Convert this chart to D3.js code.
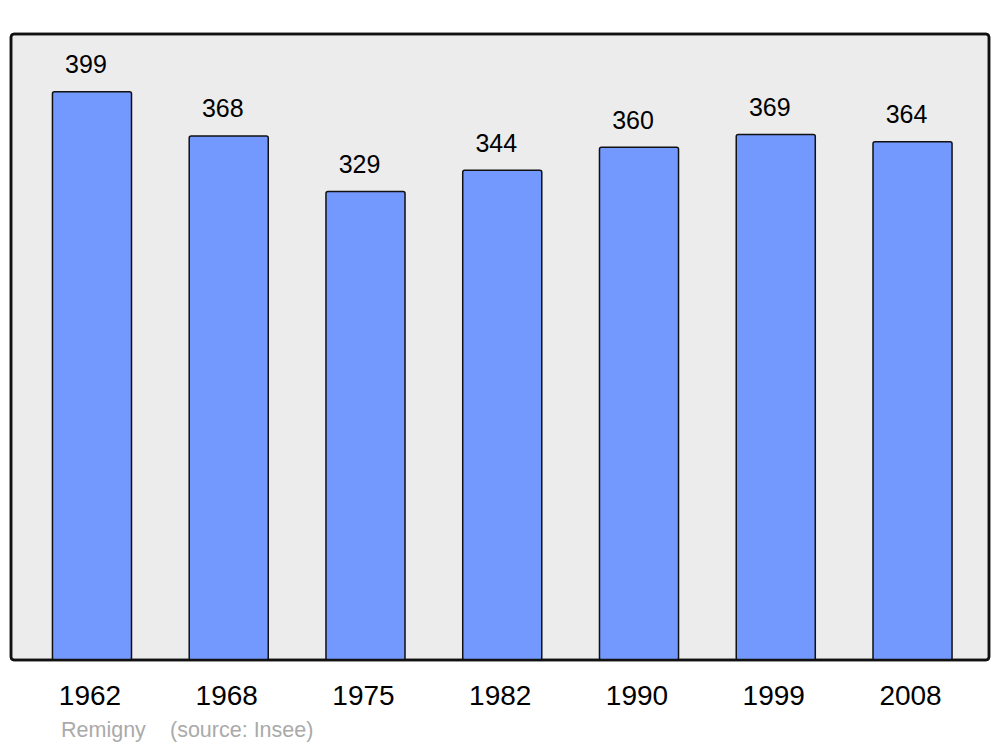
<!DOCTYPE html>
<html><head><meta charset="utf-8">
<script src="https://cdn.jsdelivr.net/npm/d3@7"></script>
<style>body{margin:0;background:#fff}svg{display:block}text{font-family:"Liberation Sans",Arial,sans-serif}</style>
</head><body>
<svg id="c" width="1000" height="747"></svg>
<script>
const years = ["1962","1968","1975","1982","1990","1999","2008"];
const population = [399,368,329,344,360,369,364];
const commune = "Remigny";
const source = "(source: Insee)";

const svg = d3.select("#c");
const plot = {x0:11, x1:989, y0:34, y1:660};

svg.append("rect").attr("x",plot.x0).attr("y",plot.y0)
  .attr("width",plot.x1-plot.x0).attr("height",plot.y1-plot.y0)
  .attr("rx",3).attr("fill","#ececec").attr("stroke","#111").attr("stroke-width",2.5);

const x = d3.scaleBand().domain(years).range([23.6,980.9]).paddingInner(0.422).paddingOuter(0.211);
const y = d3.scaleLinear().domain([0,439.6]).range([plot.y1,plot.y0]);

const g = svg.append("g");
g.selectAll("rect.bar").data(years).join("rect").attr("class","bar")
  .attr("x",d=>x(d)).attr("width",x.bandwidth())
  .attr("y",(d,i)=>y(population[i])).attr("height",(d,i)=>y(0)-y(population[i]))
  .attr("rx",2).attr("fill","#7399ff").attr("stroke","#111").attr("stroke-width",1.5);

g.selectAll("text.val").data(years).join("text").attr("class","val")
  .attr("x",d=>x(d)+x.bandwidth()/2-6).attr("y",(d,i)=>y(population[i])-18.5)
  .attr("text-anchor","middle").attr("font-size",25).attr("fill","#000")
  .text((d,i)=>population[i]);

svg.append("rect").attr("x",plot.x0).attr("y",plot.y0)
  .attr("width",plot.x1-plot.x0).attr("height",plot.y1-plot.y0)
  .attr("rx",3).attr("fill","none").attr("stroke","#111").attr("stroke-width",2.5);

const ax = svg.append("g").attr("transform",`translate(-2,${plot.y1})`)
  .call(d3.axisBottom(x).tickSize(0).tickPadding(0));
ax.select(".domain").remove();
ax.selectAll("text").attr("font-size",28).attr("fill","#000").attr("dy",0).attr("y",45)
  .attr("font-family","Liberation Sans, Arial, sans-serif");

svg.append("text").attr("x",61).attr("y",737).attr("font-size",21.5).attr("fill","#aaa").text(commune);
svg.append("text").attr("x",170).attr("y",737).attr("font-size",21.5).attr("fill","#aaa").text(source);
</script>
</body></html>
